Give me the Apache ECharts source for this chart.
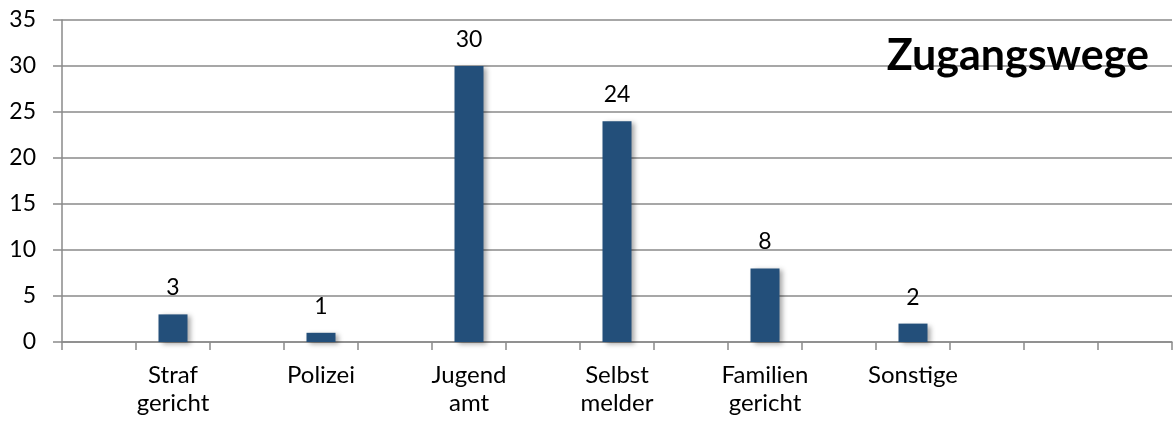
<!DOCTYPE html>
<html>
<head>
<meta charset="utf-8">
<script src="https://cdn.jsdelivr.net/npm/echarts@6/dist/echarts.min.js"></script>
<style>
  html, body { margin: 0; padding: 0; background: #fff; }
  #chart { width: 1176px; height: 423px; }
</style>
</head>
<body>
<div id="chart"></div>
<script>
// Access routes: every other slot on the category axis is left empty
const categories = ['', 'Straf\ngericht', '', 'Polizei', '', 'Jugend\namt', '', 'Selbst\nmelder', '', 'Familien\ngericht', '', 'Sonstige', '', '', ''];
const counts = [null, 3, null, 1, null, 30, null, 24, null, 8, null, 2, null, null, null];
const yTicks = { min: 0, max: 35, interval: 5 };
const chartTitle = 'Zugangswege';

const FONT = 'Lato, "Open Sans", sans-serif';
const chart = echarts.init(document.getElementById('chart'), null, { renderer: 'canvas' });

chart.setOption({
  animation: false,
  backgroundColor: '#ffffff',
  title: {
    text: chartTitle,
    right: 22,
    top: 30,
    textStyle: { fontFamily: FONT, fontSize: 43, fontWeight: 'bold', color: '#000' }
  },
  grid: { left: 62, right: 4, top: 20, bottom: 81, containLabel: false },
  xAxis: {
    type: 'category',
    data: categories,
    boundaryGap: true,
    axisLine: { lineStyle: { color: '#8a8a8a', width: 1.5 } },
    axisTick: { show: true, length: 8, interval: 0, lineStyle: { color: '#8a8a8a', width: 1.5 } },
    axisLabel: {
      interval: 0,
      margin: 19,
      fontFamily: FONT,
      fontSize: 24,
      lineHeight: 28,
      color: '#000'
    }
  },
  yAxis: {
    type: 'value',
    min: yTicks.min,
    max: yTicks.max,
    interval: yTicks.interval,
    axisLine: { show: true, lineStyle: { color: '#8a8a8a', width: 1.5 } },
    axisTick: { show: true, length: 9, lineStyle: { color: '#8a8a8a', width: 1.5 } },
    axisLabel: { fontFamily: FONT, fontSize: 23, color: '#000', margin: 26 },
    splitLine: { show: true, lineStyle: { color: '#8a8a8a', width: 1.5 } }
  },
  series: [{
    type: 'bar',
    data: counts,
    barWidth: 29,
    itemStyle: {
      color: '#234f7a',
      shadowColor: 'rgba(0,0,0,0.35)',
      shadowBlur: 5,
      shadowOffsetX: 3,
      shadowOffsetY: 2
    },
    label: {
      show: true,
      position: 'top',
      distance: 15,
      fontFamily: FONT,
      fontSize: 23,
      color: '#000'
    }
  }]
});
</script>
</body>
</html>
